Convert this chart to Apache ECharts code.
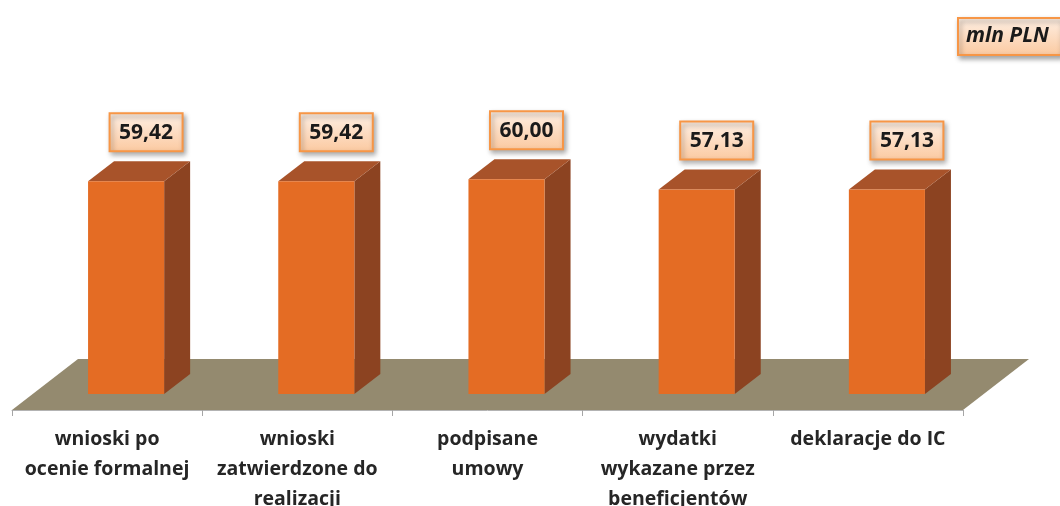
<!DOCTYPE html>
<html>
<head>
<meta charset="utf-8">
<script src="https://cdn.jsdelivr.net/npm/echarts@6/dist/echarts.min.js"></script>
<style>
  html, body { margin: 0; padding: 0; background: #fff; }
  #chart { width: 1060px; height: 506px; }
</style>
</head>
<body>
<div id="chart"></div>
<script>
const categories = [
  'wnioski po\nocenie formalnej',
  'wnioski\nzatwierdzone do\nrealizacji',
  'podpisane\numowy',
  'wydatki\nwykazane przez\nbeneficjentów',
  'deklaracje do IC'
];
const values = [59.42, 59.42, 60.00, 57.13, 57.13];
const unitLabel = 'mln PLN';

const FONT = '"Open Sans", Lato, sans-serif';
// pseudo-3D offsets (px)
const shiftX = 19, shiftY = -16;   // bar set back from floor front edge
const depthX = 26, depthY = -20;   // bar depth
const floorX = 66, floorY = -51;   // floor depth

const chart = echarts.init(document.getElementById('chart'));

function fmt(v) {
  return v.toFixed(2).replace('.', ',');
}

chart.setOption({
  animation: false,
  backgroundColor: '#fff',
  title: {
    text: unitLabel,
    left: 958,
    top: 18,
    padding: [5, 12, 5, 8],
    backgroundColor: {
      type: 'linear', x: 0, y: 0, x2: 0, y2: 1,
      colorStops: [
        { offset: 0, color: '#fef0e5' },
        { offset: 1, color: '#fbc9a0' }
      ]
    },
    borderColor: '#f79646',
    borderWidth: 2,
    shadowBlur: 5,
    shadowColor: 'rgba(0,0,0,0.35)',
    shadowOffsetX: 2,
    shadowOffsetY: 3,
    textStyle: {
      fontFamily: FONT,
      fontSize: 21,
      fontWeight: 'bold',
      fontStyle: 'italic',
      color: '#1a1a1a',
      lineHeight: 27
    }
  },
  grid: { left: 12, right: 97, top: 52, bottom: 96, outerBoundsMode: 'none', containLabel: false },
  xAxis: {
    type: 'category',
    data: categories,
    z: 5,
    axisLine: { lineStyle: { color: '#b3b3b3', width: 1 } },
    axisTick: { show: true, length: 6, lineStyle: { color: '#a6a6a6' } },
    axisLabel: {
      interval: 0,
      margin: 14,
      fontFamily: FONT,
      fontSize: 19.5,
      fontWeight: 'bold',
      color: '#262626',
      lineHeight: 30
    }
  },
  yAxis: { type: 'value', min: 0, max: 100, show: false },
  series: [
    {
      // floor
      type: 'custom',
      z: 1,
      silent: true,
      data: [[0, 0]],
      renderItem: function (params, api) {
        const cs = params.coordSys;
        const y0 = cs.y + cs.height;
        return {
          type: 'polygon',
          shape: {
            points: [
              [cs.x, y0],
              [cs.x + cs.width, y0],
              [cs.x + cs.width + floorX, y0 + floorY],
              [cs.x + floorX, y0 + floorY]
            ]
          },
          style: { fill: '#948a6f' }
        };
      }
    },
    {
      type: 'custom',
      z: 3,
      data: values.map((v, i) => [i, v]),
      renderItem: function (params, api) {
        const i = api.value(0), v = api.value(1);
        const base = api.coord([i, 0]);
        const top = api.coord([i, v]);
        const bw = api.size([1, 0])[0] * 0.4;
        const x0 = base[0] + shiftX - bw / 2;
        const x1 = x0 + bw;
        const yb = base[1] + shiftY;
        const yt = top[1] + shiftY;
        const cx = (x0 + x1) / 2 + 20;
        const cy = yt - 49;
        const boxW = 73, boxH = 38;
        return {
          type: 'group',
          children: [
            {
              type: 'polygon',
              shape: { points: [[x1, yb], [x1 + depthX, yb + depthY], [x1 + depthX, yt + depthY], [x1, yt]] },
              style: { fill: '#8c4321' }
            },
            {
              type: 'polygon',
              shape: { points: [[x0, yt], [x1, yt], [x1 + depthX, yt + depthY], [x0 + depthX, yt + depthY]] },
              style: { fill: '#a8532a' }
            },
            {
              type: 'rect',
              shape: { x: x0, y: yt, width: bw, height: yb - yt },
              style: { fill: '#e46c24' }
            },
            {
              type: 'rect',
              shape: { x: cx - boxW / 2, y: cy - boxH / 2, width: boxW, height: boxH },
              style: {
                fill: new echarts.graphic.LinearGradient(0, 0, 0, 1, [
                  { offset: 0, color: '#fef0e5' },
                  { offset: 1, color: '#fbc9a0' }
                ]),
                stroke: '#f79646',
                lineWidth: 2,
                shadowBlur: 5,
                shadowColor: 'rgba(0,0,0,0.35)',
                shadowOffsetX: 2,
                shadowOffsetY: 3
              }
            },
            {
              type: 'text',
              style: {
                text: fmt(v),
                x: cx,
                y: cy + 1,
                align: 'center',
                verticalAlign: 'middle',
                fill: '#1a1a1a',
                font: 'bold 21px ' + FONT
              }
            }
          ]
        };
      }
    }
  ]
});
</script>
</body>
</html>
